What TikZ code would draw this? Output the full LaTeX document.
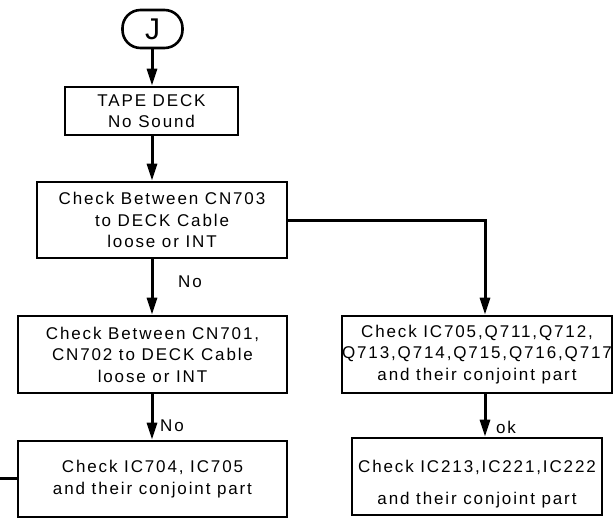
\documentclass[tikz,border=0pt]{standalone}
\usepackage{fontspec}
\setmainfont{Liberation Sans}[LetterSpace=11]
\usetikzlibrary{arrows.meta}
\tikzset{
  box/.style={draw=black, line width=2.6pt, fill=white, rectangle, align=center, inner sep=0pt, font=\fontsize{17}{21.5}\selectfont},
  term/.style={draw=black, line width=2.6pt, rounded corners=18pt, minimum width=60pt, minimum height=38pt, inner sep=0pt, font=\fontsize{30}{30}\selectfont},
  conn/.style={line width=3pt, -{Triangle[length=17pt,width=10pt]}},
  plain/.style={line width=3pt},
  lbl/.style={font=\fontsize{17}{20}\selectfont, inner sep=0pt},
}
\begin{document}
\begin{tikzpicture}[x=1pt,y=-1pt]
\useasboundingbox (0,0) rectangle (616,523);
\node[term] (J) at (152.5,29) {J};
\node[box, minimum width=173pt, minimum height=48pt] (tape) at (151.5,111) {TAPE DECK\\No Sound};
\node[box, minimum width=250pt, minimum height=76pt] (c703) at (162,220) {Check Between CN703\\to DECK Cable\\loose or INT};
\node[box, minimum width=269pt, minimum height=77pt] (c701) at (152.5,354.5) {Check Between CN701,\\CN702 to DECK Cable\\loose or INT};
\node[box, minimum width=269pt, minimum height=76pt] (c704) at (152.5,479) {Check IC704, IC705\\and their conjoint part};
\node[box, minimum width=250pt, minimum height=77pt] (ic705) at (477,354.5) {Check IC705,Q711,Q712,\\Q713,Q714,Q715,Q716,Q717\\and their conjoint part};
\node[box, minimum width=250pt, minimum height=77pt] (ic213) at (477,476.5) {};
\node[lbl, align=center, font=\fontsize{17}{32}\selectfont] (ic213t) at (477,484) {Check IC213,IC221,IC222\\and their conjoint part};
\coordinate (lc) at (152,0);
\coordinate (rc) at (485,0);
\coordinate (exit) at (0,478);
\draw[conn] (J.south -| lc) -- (lc |- tape.north);
\draw[conn] (tape.south -| lc) -- (lc |- c703.north);
\draw[conn] (c703.south -| lc) -- (lc |- c701.north);
\draw[conn] (c701.south -| lc) -- (lc |- c704.north);
\draw[conn] (c703.east) -| (rc |- ic705.north);
\draw[conn] (ic705.south -| rc) -- (rc |- ic213.north);
\draw[plain] (c704.west |- exit) -- (exit);
\node[lbl] (no1) at (190,282) {No};
\node[lbl] (no2) at (172,426) {No};
\node[lbl] (ok) at (506,427) {ok};
\end{tikzpicture}
\end{document}
